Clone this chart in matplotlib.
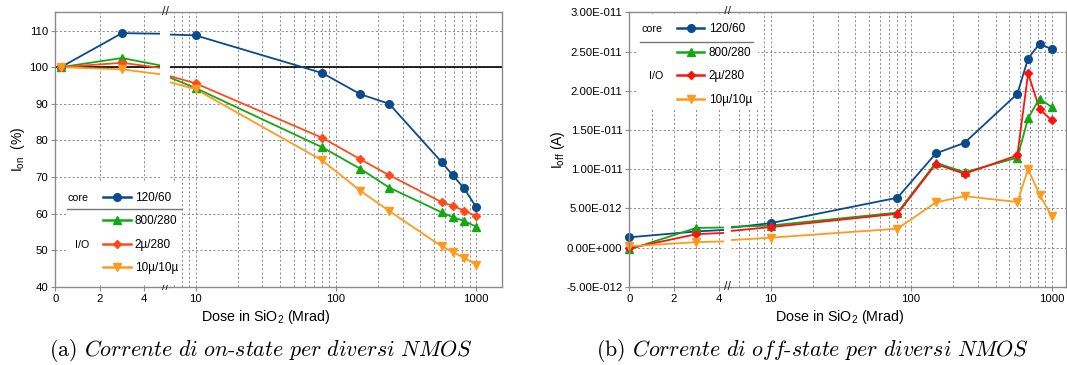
import numpy as np
import matplotlib
matplotlib.use("Agg")
import matplotlib.pyplot as plt
from matplotlib.lines import Line2D
from matplotlib.patches import Rectangle
from matplotlib.ticker import FixedLocator, FuncFormatter, LogLocator, NullFormatter

plt.rcParams['font.family'] = ['Liberation Sans', 'DejaVu Sans']
plt.rcParams['mathtext.fontset'] = 'custom'
plt.rcParams['mathtext.rm'] = 'Liberation Sans'
plt.rcParams['mathtext.it'] = 'Liberation Sans:italic'
plt.rcParams['mathtext.default'] = 'regular'

W, H = 1067, 365  # canvas size in pixels (dpi 100)

# --- data ---------------------------------------------------------------
series_labels = ['120/60', '800/280', '2µ/280', '10µ/10µ']

# on-state current, normalised to pre-irradiation value (%)
dose_on = [0.25, 3, 10, 80, 150, 240, 570, 680, 820, 1000]
ion_120_60 = [100, 109.3, 108.7, 98.4, 92.6, 90.0, 74.0, 70.5, 66.9, 61.8]
ion_800_280 = [100, 102.5, 94.3, 78.1, 72.2, 67.1, 60.3, 59.0, 58.0, 56.4]
ion_2u_280 = [100, 101.2, 95.6, 80.7, 74.8, 70.5, 63.1, 62.1, 60.8, 59.3]
ion_10u_10u = [100, 99.4, 94.0, 74.5, 66.2, 60.7, 51.0, 49.5, 47.9, 46.0]

# off-state current (A)
dose_off = [0, 3, 10, 80, 150, 240, 570, 680, 820, 1000]
ioff_120_60 = [1.3e-12, 2.05e-12, 3.1e-12, 6.35e-12, 12.0e-12, 13.35e-12, 19.6e-12, 24.1e-12, 26.0e-12, 25.3e-12]
ioff_800_280 = [-0.25e-12, 2.5e-12, 2.8e-12, 4.45e-12, 10.8e-12, 9.6e-12, 11.45e-12, 16.5e-12, 19.0e-12, 17.9e-12]
ioff_2u_280 = [-0.1e-12, 1.7e-12, 2.6e-12, 4.3e-12, 10.65e-12, 9.4e-12, 11.75e-12, 22.2e-12, 17.7e-12, 16.2e-12]
ioff_10u_10u = [0.15e-12, 0.68e-12, 1.25e-12, 2.4e-12, 5.75e-12, 6.55e-12, 5.8e-12, 10.0e-12, 6.75e-12, 4.0e-12]

BLUE = '#0b4a8b'
GREEN = '#13a813'
ORANGE = '#ff9a1c'
GRID = '#8c8c8c'
SPINE = '#8a8a8a'


def px_rect(x0, x1, y0, y1):
    """Axes rectangle from pixel edges (y measured from the top)."""
    return [x0 / W, 1 - y1 / H, (x1 - x0) / W, (y1 - y0) / H]


def fx(px):
    return px / W


def fy(py):
    return 1 - py / H


def sci_label(v, pos):
    """Spreadsheet style labels such as 2.50E-011."""
    if abs(v) < 1e-20:
        return '0.00E+000'
    mant, exp = f'{v:.2E}'.split('E')
    e = int(exp)
    return f'{mant}E{"+" if e >= 0 else "-"}{abs(e):03d}'


def style_axes(ax, ylim, yticks):
    ax.set_ylim(*ylim)
    ax.yaxis.set_major_locator(FixedLocator(yticks))
    ax.grid(True, which='both', color=GRID, ls=(0, (2.2, 2.2)), lw=0.7)
    ax.set_axisbelow(True)
    for s in ax.spines.values():
        s.set_color(SPINE)
        s.set_linewidth(1.0)
    ax.tick_params(which='major', length=3, width=0.8, color=SPINE, labelsize=8.2, pad=2)
    ax.tick_params(which='minor', length=0)


def draw_panel(fig, dose, series, lin_px, log_px, top, bottom, lin_xmax, log_xlim,
               ylim, yticks, yfmt, lin_minor, ref_line=None):
    ax_lin = fig.add_axes(px_rect(lin_px[0], lin_px[1], top, bottom))
    ax_log = fig.add_axes(px_rect(log_px[0], log_px[1], top, bottom))
    ax_log.set_xscale('log', nonpositive='mask')

    ax_lin.set_xlim(0, lin_xmax)
    ax_log.set_xlim(*log_xlim)
    for ax in (ax_lin, ax_log):
        style_axes(ax, ylim, yticks)
        if ref_line is not None:
            ax.axhline(ref_line, color='black', lw=1.2, zorder=1.8)

    ax_lin.xaxis.set_major_locator(FixedLocator([0, 2, 4]))
    ax_lin.xaxis.set_minor_locator(FixedLocator(lin_minor))
    ax_lin.spines['right'].set_visible(False)
    ax_lin.yaxis.set_major_formatter(yfmt)

    ax_log.xaxis.set_major_locator(FixedLocator([10, 100, 1000]))
    ax_log.xaxis.set_major_formatter(FuncFormatter(lambda v, p: f'{v:g}'))
    ax_log.xaxis.set_minor_locator(LogLocator(base=10, subs=np.arange(2, 10)))
    ax_log.xaxis.set_minor_formatter(NullFormatter())
    ax_log.spines['left'].set_visible(False)
    ax_log.tick_params(axis='y', left=False, labelleft=False)

    x = np.asarray(dose, dtype=float)
    handles = []
    for vals, color, marker, ms in series:
        y = np.asarray(vals, dtype=float)
        for ax in (ax_lin, ax_log):
            ax.plot(x, y, color=color, lw=1.3, zorder=2)
        # markers are left unclipped so the ones sitting on the axis show whole
        inside = x <= lin_xmax
        ax_lin.plot(x[inside], y[inside], ls='none', marker=marker, ms=ms, color=color,
                    clip_on=False, zorder=2.1)
        ax_log.plot(x[x > 0], y[x > 0], ls='none', marker=marker, ms=ms, color=color, zorder=2.1)
        handles.append(Line2D([], [], color=color, lw=1.8, marker=marker, ms=ms))

    # continue the top and bottom frame across the axis break
    for py in (top, bottom):
        fig.add_artist(Line2D([fx(lin_px[1]), fx(log_px[0])], [fy(py), fy(py)],
                              color=SPINE, lw=1.0, transform=fig.transFigure))
        fig.text(fx((lin_px[1] + log_px[0]) / 2), fy(py), '//', ha='center', va='center',
                 fontsize=9, color='#222222')
    return ax_lin, ax_log, handles


def draw_legend(fig, handles, box, anchor, core_xy, io_xy, sep):
    """Legend with the core / I/O grouping."""
    fig.add_artist(Rectangle((fx(box[0]), fy(box[3])), fx(box[1]) - fx(box[0]),
                             fy(box[2]) - fy(box[3]), transform=fig.transFigure,
                             facecolor='white', edgecolor='none', zorder=4))
    leg = fig.legend(handles, series_labels, loc='upper left',
                     bbox_to_anchor=(fx(anchor[0]), fy(anchor[1])), frameon=False,
                     borderpad=0, borderaxespad=0, handlelength=2.35, handletextpad=0.35,
                     labelspacing=0.97, fontsize=8.5, numpoints=1)
    leg.set_zorder(5)
    fig.text(fx(core_xy[0]), fy(core_xy[1]), 'core', ha='center', va='center', fontsize=7.7, zorder=5)
    fig.text(fx(io_xy[0]), fy(io_xy[1]), 'I/O', ha='center', va='center', fontsize=7.7, zorder=5)
    fig.add_artist(Line2D([fx(sep[0]), fx(sep[1])], [fy(sep[2]), fy(sep[2])], color='#777777',
                          lw=1.0, transform=fig.transFigure, zorder=5))


fig = plt.figure(figsize=(W / 100, H / 100), dpi=100)

# (a) on-state current
on_series = [
    (ion_120_60, BLUE, 'o', 5.5),
    (ion_800_280, GREEN, '^', 5.5),
    (ion_2u_280, '#ff4a1c', 'D', 4.0),
    (ion_10u_10u, ORANGE, 'v', 5.5),
]
a_lin, a_log, a_handles = draw_panel(
    fig, dose_on, on_series, lin_px=(55.3, 160), log_px=(170, 502), top=12.3, bottom=286.7,
    lin_xmax=4.71, log_xlim=(6.58, 1530), ylim=(40, 115), yticks=np.arange(40, 111, 10),
    yfmt=FuncFormatter(lambda v, p: f'{v:.0f}'), lin_minor=[], ref_line=100)
a_lin.set_ylabel('I$_{on}$  (%)', fontsize=10)
a_lin.yaxis.set_label_coords(-0.27, 0.5)
draw_legend(fig, a_handles, box=(66, 182, 182, 285), anchor=(103, 192),
            core_xy=(78.5, 197.7), io_xy=(82, 244.5), sep=(67, 182, 209))

# (b) off-state current
off_series = [
    (ioff_120_60, BLUE, 'o', 5.5),
    (ioff_800_280, GREEN, '^', 5.5),
    (ioff_2u_280, '#ff1111', 'D', 4.0),
    (ioff_10u_10u, ORANGE, 'v', 5.5),
]
b_lin, b_log, b_handles = draw_panel(
    fig, dose_off, off_series, lin_px=(629.3, 723.7), log_px=(730.7, 1066), top=12.3, bottom=286.7,
    lin_xmax=4.22, log_xlim=(5.21, 1265), ylim=(-5e-12, 3e-11),
    yticks=np.arange(-5e-12, 3.01e-11, 5e-12), yfmt=FuncFormatter(sci_label), lin_minor=[1, 3])
b_lin.set_ylabel('I$_{off}$ (A)', fontsize=10)
b_lin.yaxis.set_label_coords(-0.66, 0.5)
draw_legend(fig, b_handles, box=(637, 758, 13.5, 110), anchor=(676.7, 23.5),
            core_xy=(652, 29.3), io_xy=(656, 76.3), sep=(640, 753, 41.7))

# x axis titles
for cx in (266, 840):
    fig.text(fx(cx), fy(317), 'Dose in SiO$_2$ (Mrad)', ha='center', va='center', fontsize=10.3)

# captions
caps = [(261, '(a)', r'$\mathit{Corrente\ di\ on}$-$\mathit{state\ per\ diversi\ NMOS}$'),
        (812, '(b)', r'$\mathit{Corrente\ di\ off}$-$\mathit{state\ per\ diversi\ NMOS}$')]
for cx, tag, body in caps:
    fig.text(fx(cx), fy(350), tag + ' ' + body, ha='center', va='center', fontsize=15.8,
             family='cmr10', math_fontfamily='cm')

fig.savefig('out.png', dpi=100)
